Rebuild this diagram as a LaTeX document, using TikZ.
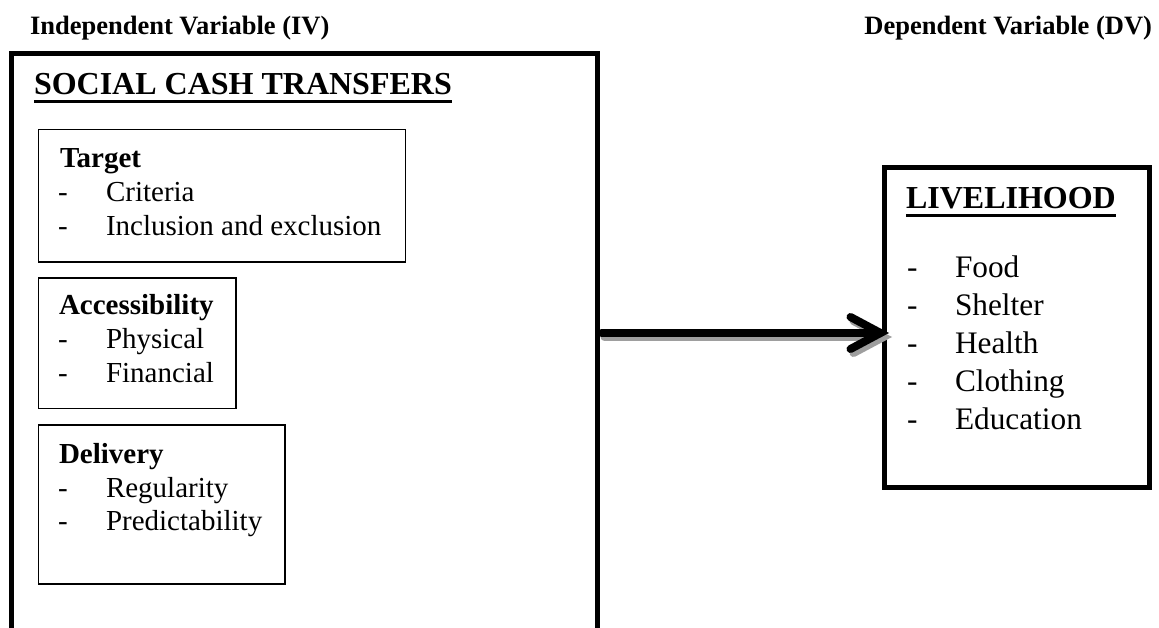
\documentclass[tikz,border=0pt]{standalone}
\usepackage{fontspec}
\setmainfont{Liberation Serif}
\begin{document}
\begin{tikzpicture}[x=1pt,y=-1pt,
  thickbox/.style={draw=black,line width=5pt,outer sep=0pt,inner sep=0pt,anchor=north west},
  thinbox/.style={draw=black,line width=1.4pt,outer sep=0pt,inner sep=0pt,anchor=north west},
  txt/.style={inner sep=0pt,outer sep=0pt,anchor=base west,font=\fontsize{29}{33}\selectfont},
  rtxt/.style={inner sep=0pt,outer sep=0pt,anchor=base west,font=\fontsize{31.3}{37}\selectfont},
  hdr/.style={inner sep=0pt,outer sep=0pt,font=\bfseries\fontsize{26.5}{30}\selectfont},
  ttl/.style={inner sep=0pt,outer sep=0pt,anchor=base west,font=\bfseries\fontsize{32}{36}\selectfont},
  uline/.style={line width=3.2pt},
  arrowline/.style={line width=8pt,line cap=round,line join=miter},
  shadowline/.style={line width=8pt,line cap=round,line join=miter,draw=black!38}
]
\useasboundingbox (0,0) rectangle (1159,628);

% headers
\node[hdr,anchor=base west] (ivh) at (30,35) {Independent Variable (IV)};
\node[hdr,anchor=base east] (dvh) at (1152,35) {Dependent Variable (DV)};

% big box
\node[thickbox,minimum width=586.5pt,minimum height=576pt] (scb) at (11,54) {};
\node[ttl] (scbt) at (34,95) {SOCIAL CASH TRANSFERS};
\draw[uline] ([yshift=-6.8pt]scbt.base west) -- ([yshift=-6.8pt]scbt.base east);

% target box
\node[thinbox,minimum width=367pt,minimum height=132.5pt] (tgt) at (38.5,129.5) {};
\node[txt,font=\bfseries\fontsize{29}{33}\selectfont] (tgth) at (60,168) {Target};
\node[txt] (tgd1) at (58,202) {-};
\node[txt] (tgi1) at (106,202) {Criteria};
\node[txt] (tgd2) at (58,235.5) {-};
\node[txt] (tgi2) at (106,235.5) {Inclusion and exclusion};

% accessibility box
\node[thinbox,minimum width=197.5pt,minimum height=130.5pt] (acc) at (38.5,278) {};
\node[txt,font=\bfseries\fontsize{29}{33}\selectfont] (acch) at (59,315) {Accessibility};
\node[txt] (acd1) at (58,348.5) {-};
\node[txt] (aci1) at (106,348.5) {Physical};
\node[txt] (acd2) at (58,382) {-};
\node[txt] (aci2) at (106,382) {Financial};

% delivery box
\node[thinbox,minimum width=246.5pt,minimum height=159pt] (del) at (38.5,425) {};
\node[txt,font=\bfseries\fontsize{29}{33}\selectfont] (delh) at (59,463) {Delivery};
\node[txt] (dld1) at (58,497) {-};
\node[txt] (dli1) at (106,497) {Regularity};
\node[txt] (dld2) at (58,530.5) {-};
\node[txt] (dli2) at (106,530.5) {Predictability};

% livelihood box
\node[thickbox,minimum width=265pt,minimum height=319.5pt] (liv) at (884.5,168) {};
\node[ttl] (livt) at (906,209) {LIVELIHOOD};
\draw[uline] ([yshift=-6.5pt]livt.base west) -- ([yshift=-6.5pt]livt.base east);
\node[rtxt] (lvd1) at (907,278) {-};
\node[rtxt] (lvi1) at (955,278) {Food};
\node[rtxt] (lvd2) at (907,315.75) {-};
\node[rtxt] (lvi2) at (955,315.75) {Shelter};
\node[rtxt] (lvd3) at (907,353.5) {-};
\node[rtxt] (lvi3) at (955,353.5) {Health};
\node[rtxt] (lvd4) at (907,391.25) {-};
\node[rtxt] (lvi4) at (955,391.25) {Clothing};
\node[rtxt] (lvd5) at (907,429) {-};
\node[rtxt] (lvi5) at (955,429) {Education};

% arrow (with soft grey shadow)
\coordinate (as) at ([xshift=4pt,yshift=9pt]scb.east);
\coordinate (at) at ([xshift=-4pt,yshift=-5.25pt]liv.west);
\draw[shadowline] ([xshift=3pt,yshift=-4pt]as) -- ([xshift=3pt,yshift=-4pt]at);
\draw[shadowline] ([xshift=-27pt,yshift=12pt]at) -- ([xshift=3pt,yshift=-4pt]at) -- ([xshift=-27pt,yshift=-20pt]at);
\draw[arrowline] (as) -- (at);
\draw[arrowline] ([xshift=-30pt,yshift=16pt]at) -- (at) -- ([xshift=-30pt,yshift=-16pt]at);
\end{tikzpicture}
\end{document}
